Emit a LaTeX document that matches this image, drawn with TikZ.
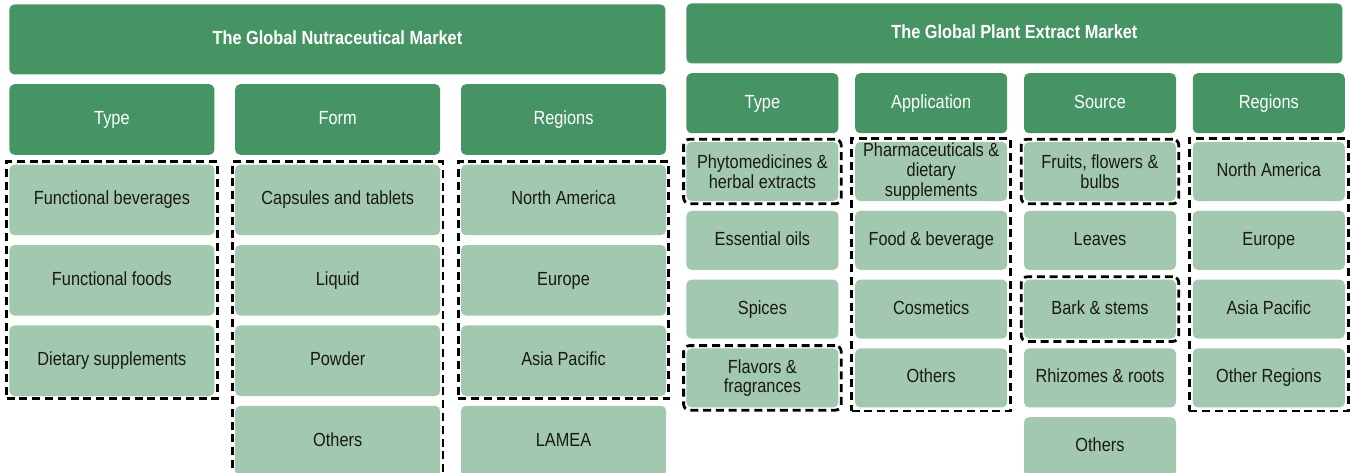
\documentclass[tikz,border=0pt]{standalone}
\usepackage{fontspec}
\setmainfont[FakeStretch=0.86]{Liberation Sans}
\usepackage{xcolor}
\usetikzlibrary{positioning,fit}
\definecolor{marketGreen}{RGB}{70,147,100}
\definecolor{itemGreen}{RGB}{163,200,176}
\definecolor{itemInk}{RGB}{25,25,25}

\begin{document}
\begin{tikzpicture}[
    title/.style={
        rectangle, rounded corners=2.5pt, fill=marketGreen, text=white,
        font=\bfseries\fontsize{9.5}{10}\selectfont, align=center,
        inner sep=0pt, minimum width=328pt, text height=7pt, text depth=2pt
    },
    head/.style={
        rectangle, rounded corners=2.5pt, fill=marketGreen, text=white,
        font=\fontsize{9.5}{10}\selectfont, align=center, inner sep=0pt,
        text height=7pt, text depth=2pt
    },
    item/.style={
        rectangle, rounded corners=2.5pt, fill=itemGreen, text=itemInk,
        font=\fontsize{9.5}{9.8}\selectfont, align=center, inner sep=0pt,
        text height=7pt, text depth=2pt
    },
    multi/.style={text height=, text depth=},
    nutbox/.style={minimum width=102.5pt, minimum height=35.3pt},
    plbox/.style={minimum width=76pt, minimum height=29.5pt},
    group/.style={
        draw=black, line width=1.4pt, dash pattern=on 4pt off 2.4pt,
        inner sep=1.2pt
    },
    pick/.style={group, rounded corners=3pt}
]
\useasboundingbox (0,0) rectangle (675pt,-236pt);

% left: nutraceutical market
\node[title, minimum height=35pt, anchor=north west] (nutTitle) at (4.5pt,-2pt) {The Global Nutraceutical Market};

\node[head, nutbox, below right=4.5pt and 0pt of nutTitle.south west] (nutType) {Type};
\node[head, nutbox, right=10pt of nutType] (nutForm) {Form};
\node[head, nutbox, right=10pt of nutForm] (nutRegions) {Regions};

\node[item, nutbox, below=4.5pt of nutType] (nutBev) {Functional beverages};
\node[item, nutbox, below=4.5pt of nutBev] (nutFoods) {Functional foods};
\node[item, nutbox, below=4.5pt of nutFoods] (nutSupp) {Dietary supplements};

\node[item, nutbox, below=4.5pt of nutForm] (nutCaps) {Capsules and tablets};
\node[item, nutbox, below=4.5pt of nutCaps] (nutLiquid) {Liquid};
\node[item, nutbox, below=4.5pt of nutLiquid] (nutPowder) {Powder};
\node[item, nutbox, below=4.5pt of nutPowder] (nutOthers) {Others};

\node[item, nutbox, below=4.5pt of nutRegions] (nutNA) {North America};
\node[item, nutbox, below=4.5pt of nutNA] (nutEU) {Europe};
\node[item, nutbox, below=4.5pt of nutEU] (nutAP) {Asia Pacific};
\node[item, nutbox, below=4.5pt of nutAP] (nutLAMEA) {LAMEA};

\node[group, fit=(nutBev)(nutSupp)] (nutTypeGroup) {};
\node[group, fit=(nutCaps)(nutOthers)] (nutFormGroup) {};
\node[group, fit=(nutNA)(nutAP)] (nutRegionGroup) {};

% right: plant extract market
\node[title, minimum height=30pt, anchor=north west] (plTitle) at (343pt,-1.5pt) {The Global Plant Extract Market};

\node[head, plbox, minimum height=30pt, below right=4.5pt and 0pt of plTitle.south west] (plType) {Type};
\node[head, plbox, minimum height=30pt, right=8pt of plType] (plApp) {Application};
\node[head, plbox, minimum height=30pt, right=8pt of plApp] (plSource) {Source};
\node[head, plbox, minimum height=30pt, right=8pt of plSource] (plRegions) {Regions};

\node[item, multi, plbox, below=4pt of plType] (plPhyto) {Phytomedicines \&\\herbal extracts};
\node[item, plbox, below=4.5pt of plPhyto] (plOils) {Essential oils};
\node[item, plbox, below=4.5pt of plOils] (plSpices) {Spices};
\node[item, multi, plbox, below=4.5pt of plSpices] (plFlavors) {Flavors \&\\fragrances};

\node[item, multi, plbox, below=4pt of plApp] (plPharma) {Pharmaceuticals \&\\dietary\\supplements};
\node[item, plbox, below=4.5pt of plPharma] (plFood) {Food \& beverage};
\node[item, plbox, below=4.5pt of plFood] (plCosm) {Cosmetics};
\node[item, plbox, below=4.5pt of plCosm] (plAppOthers) {Others};

\node[item, multi, plbox, below=4pt of plSource] (plFruits) {Fruits, flowers \&\\bulbs};
\node[item, plbox, below=4.5pt of plFruits] (plLeaves) {Leaves};
\node[item, plbox, below=4.5pt of plLeaves] (plBark) {Bark \& stems};
\node[item, plbox, below=4.5pt of plBark] (plRhizomes) {Rhizomes \& roots};
\node[item, plbox, below=4.5pt of plRhizomes] (plSrcOthers) {Others};

\node[item, plbox, below=4pt of plRegions] (plNA) {North America};
\node[item, plbox, below=4.5pt of plNA] (plEU) {Europe};
\node[item, plbox, below=4.5pt of plEU] (plAP) {Asia Pacific};
\node[item, plbox, below=4.5pt of plAP] (plOther) {Other Regions};

\node[pick, fit=(plPhyto)] (plPhytoMark) {};
\node[pick, fit=(plFlavors)] (plFlavorsMark) {};
\node[group, inner sep=1.6pt, fit=(plPharma)(plAppOthers)] (plAppGroup) {};
\node[pick, fit=(plFruits)] (plFruitsMark) {};
\node[pick, fit=(plBark)] (plBarkMark) {};
\node[group, inner sep=1.6pt, fit=(plNA)(plOther)] (plRegionGroup) {};

\end{tikzpicture}
\end{document}
